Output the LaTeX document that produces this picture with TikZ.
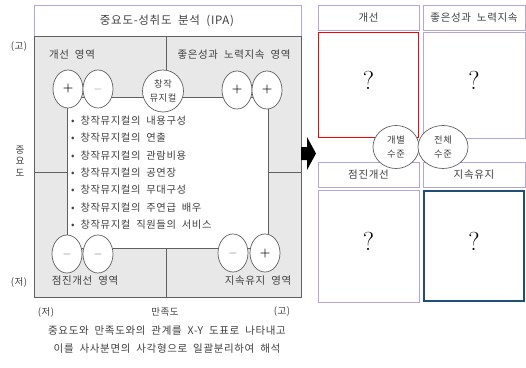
\documentclass[tikz,border=0pt]{standalone}
\usepackage{fontspec}
\newfontfamily\kr{Noto Sans CJK KR}[WordSpace=2, LetterSpace=6]
\usetikzlibrary{shapes.geometric}
\definecolor{lav}{HTML}{B4A7D6}
\definecolor{grayfill}{HTML}{E8E8E8}
\definecolor{edge}{HTML}{606060}
\definecolor{txt}{HTML}{404040}
\definecolor{navy}{HTML}{1F4E79}
\tikzset{
  krtext/.style={font=\kr\fontsize{10.5}{12}\selectfont, text=txt, inner sep=0pt},
  smalltext/.style={font=\kr\fontsize{9.5}{11.5}\selectfont, text=txt, inner sep=0pt, align=center},
  listtext/.style={font=\kr\fontsize{10.3}{11}\selectfont, text=txt, anchor=west, inner sep=0pt},
  pm/.style={ellipse, draw=edge, fill=white, minimum width=30pt, minimum height=38pt, inner sep=0pt, line width=0.7pt, font=\fontsize{12}{12}\selectfont},
  hub/.style={ellipse, draw=edge, fill=white, inner sep=0pt, line width=0.7pt, align=center, font=\kr\fontsize{9.3}{14.5}\selectfont, text=txt},
  lavbox/.style={draw=lav, line width=0.8pt},
  qmark/.style={font=\fontsize{26}{26}\selectfont, inner sep=0pt},
  divline/.style={draw=edge, line width=0.7pt}
}
\begin{document}
\begin{tikzpicture}[x=1pt,y=-1pt]
\useasboundingbox[fill=white] (0,0) rectangle (526,367);

% ---------- left panel ----------
\draw[lavbox] (34,36) -- (34,5) -- (301,5) -- (301,36);
\node[krtext, font=\kr\fontsize{11.5}{12}\selectfont] (title) at (167,21) {중요도-성취도 분석 (IPA)};
\draw[fill=grayfill, draw=edge, line width=0.8pt] (34,36) rectangle (301,297);

% dividers
\draw[divline] (166,36) -- (166,97);
\draw[divline] (166,248) -- (166,297);
\draw[divline] (34,172) -- (67,172);
\draw[divline] (268,172) -- (301,172);

% inner white box
\draw[fill=white, draw=edge, line width=0.7pt] (67,97) rectangle (268,248);

% area labels
\node[krtext] (q1) at (72,55) {개선 영역};
\node[krtext] (q2) at (234,55) {좋은성과 노력지속 영역};
\node[krtext] (q3) at (85,281) {점진개선 영역};
\node[krtext] (q4) at (258,281) {지속유지 영역};

% plus/minus ellipses
\node[pm] (tl1) at (68,89) {\textcolor{black}{\bfseries +}};
\node[pm] (tl2) at (98,89) {\textcolor{black!45}{$-$}};
\node[pm] (tr1) at (237,90) {\textcolor{black}{\bfseries +}};
\node[pm] (tr2) at (267,90) {\textcolor{black}{\bfseries +}};
\node[pm] (bl1) at (67,254) {\textcolor{black!60}{$-$}};
\node[pm] (bl2) at (98,254) {\textcolor{black!60}{$-$}};
\node[pm] (br1) at (233,253) {\textcolor{black!60}{$-$}};
\node[pm] (br2) at (265,253) {\textcolor{black}{\bfseries +}};
\node[hub, minimum width=41pt, minimum height=42pt] (hub) at (163,91) {창작\\뮤지컬};

% list
\node[listtext] (l1) at (71,120.5) {• 창작뮤지컬의 내용구성};
\node[listtext] (l2) at (71,138) {• 창작뮤지컬의 연출};
\node[listtext] (l3) at (71,155.3) {• 창작뮤지컬의 관람비용};
\node[listtext] (l4) at (71,172.7) {• 창작뮤지컬의 공연장};
\node[listtext] (l5) at (71,190) {• 창작뮤지컬의 무대구성};
\node[listtext] (l6) at (71,207.5) {• 창작뮤지컬의 주연급 배우};
\node[listtext] (l7) at (71,225) {• 창작뮤지컬 직원들의 서비스};

% axes labels
\node[smalltext] (yhi) at (19,47) {(고)};
\node[smalltext] (ylab) at (20,161) {중\\요\\도};
\node[smalltext] (ylo) at (19,282) {(저)};
\node[smalltext] (xlo) at (46,312) {(저)};
\node[smalltext] (xlab) at (165,312) {만족도};
\node[smalltext] (xhi) at (282,312) {(고)};

% caption
\node[krtext] (cap1) at (167,331) {중요도와 만족도와의 관계를 X-Y 도표로 나타내고};
\node[krtext] (cap2) at (167,349) {이를 사사분면의 사각형으로 일괄분리하여 해석};

% arrow
\fill[black] (301,147) -- (307,147) -- (307,137) -- (316,153.5) -- (307,170) -- (307,160) -- (301,160) -- cycle;

% ---------- right panel ----------
\draw[lavbox] (318,5) rectangle (419,30);
\draw[lavbox] (423,5) rectangle (525,30);
\node[krtext] (r1) at (368.5,17.5) {개선};
\node[krtext] (r2) at (474,17.5) {좋은성과 노력지속};

\draw[lavbox] (423,32) rectangle (525,138);
\draw[red, line width=1.6pt] (318.5,32.5) rectangle (418.5,137.5);
\node[qmark] (qa) at (368.5,80) {?};
\node[qmark] (qb) at (474,80) {?};

\draw[lavbox] (318,162) rectangle (419,187);
\draw[lavbox] (423,162) rectangle (525,187);
\node[krtext] (r3) at (368.5,174.5) {점진개선};
\node[krtext] (r4) at (474,174.5) {지속유지};

\draw[lavbox] (318,190) rectangle (419,302);
\draw[navy, line width=2pt] (424,191) rectangle (524,301);
\node[qmark] (qc) at (368.5,241) {?};
\node[qmark] (qd) at (474,241) {?};

\node[hub, minimum width=46pt, minimum height=43pt] (ind) at (396,147) {개별\\수준};
\node[hub, minimum width=50pt, minimum height=43pt] (tot) at (443,147) {전체\\수준};
\end{tikzpicture}
\end{document}
